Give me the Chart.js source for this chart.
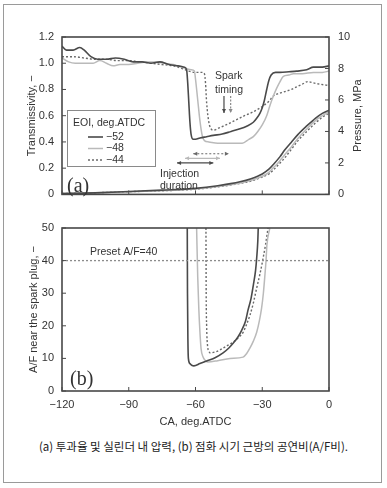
<!DOCTYPE html>
<html>
<head>
<meta charset="utf-8">
<script src="https://cdn.jsdelivr.net/npm/chart.js@4.4.0/dist/chart.umd.min.js"></script>
<style>
  body { margin: 0; background: #fff; }
  #wrap { position: relative; width: 387px; height: 488px; }
  #frame { position: absolute; left: 3px; top: 4px; width: 377px; height: 477px; border: 1px solid #9a9a9a; }
  #cA { position: absolute; left: 0; top: 0; }
  #cB { position: absolute; left: 0; top: 210px; }
  #caption { position: absolute; left: 0; width: 387px; top: 438px; text-align: center;
    font-family: "Noto Sans CJK KR", sans-serif; font-size: 11.5px; color: #222; }
</style>
</head>
<body>
<div id="wrap">
  <div id="frame"></div>
  <canvas id="cA" width="387" height="210"></canvas>
  <canvas id="cB" width="387" height="222"></canvas>
  <div id="caption">(a) 투과율 및 실린더 내 압력, (b) 점화 시기 근방의 공연비(A/F비).</div>
</div>
<script>
// crank angle ticks and legend
const caTicks = [-120, -90, -60, -30, 0];
const eoiLabels = ['−52', '−48', '−44'];

// (a) transmissivity
const ca52 = [-120, -118, -115, -112, -110, -107, -104, -100, -96, -92, -88, -84, -80, -76, -72, -68, -65, -64, -63.5, -63, -62.5, -62, -61, -60, -58, -55, -52, -48, -44, -40, -37, -34, -32.5, -31, -30, -29, -28, -27, -26, -24, -22, -18, -14.5, -10, -7, -3, 0];
const tr52 = [1.13, 1.10, 1.10, 1.12, 1.10, 1.05, 1.03, 1.03, 1.04, 1.03, 1.01, 1.01, 1.00, 1.01, 0.99, 0.98, 0.97, 0.95, 0.85, 0.70, 0.55, 0.46, 0.42, 0.42, 0.43, 0.44, 0.45, 0.46, 0.48, 0.50, 0.52, 0.55, 0.58, 0.62, 0.66, 0.72, 0.80, 0.87, 0.91, 0.93, 0.93, 0.935, 0.94, 0.95, 0.97, 0.97, 0.98];
const ca48 = [-120, -117, -114, -110, -106, -103, -100, -97, -94, -90, -86, -82, -78, -74, -70, -66, -62, -60.5, -60, -59, -58, -57, -56, -54, -50, -46, -42, -39, -36, -34, -32, -30, -28, -26.5, -25, -23.5, -22, -20.5, -18, -16, -12, -7, -3, 0];
const tr48 = [1.04, 1.01, 1.00, 1.00, 1.00, 1.02, 1.00, 0.98, 0.99, 0.99, 1.00, 1.01, 1.01, 1.00, 0.99, 0.97, 0.95, 0.94, 0.88, 0.72, 0.56, 0.45, 0.41, 0.40, 0.39, 0.39, 0.39, 0.39, 0.42, 0.44, 0.48, 0.53, 0.60, 0.68, 0.75, 0.81, 0.86, 0.90, 0.91, 0.92, 0.92, 0.93, 0.93, 0.94];
const ca44 = [-120, -115, -110, -105, -100, -95, -90, -85, -80, -75, -70, -66, -63, -60, -57, -56, -55.5, -55, -54, -53, -52, -49, -45, -41.5, -38, -34, -30, -27, -25, -22.5, -20.5, -17, -14.5, -12, -9.5, -7, -4, 0];
const tr44 = [1.05, 1.05, 1.04, 1.03, 1.03, 1.02, 1.02, 1.01, 1.00, 0.99, 0.98, 0.96, 0.94, 0.93, 0.93, 0.92, 0.85, 0.70, 0.55, 0.50, 0.49, 0.51, 0.54, 0.57, 0.60, 0.63, 0.67, 0.71, 0.75, 0.77, 0.78, 0.80, 0.82, 0.84, 0.86, 0.85, 0.84, 0.83];

// (a) cylinder pressure, MPa
const caP52 = [-120, -105, -90, -75, -60, -50, -40, -35, -30, -27, -25, -22, -20, -17, -14, -10, -6, -3, 0];
const p52 = [0.05, 0.1, 0.18, 0.27, 0.38, 0.55, 0.8, 1.0, 1.3, 1.6, 1.9, 2.4, 2.8, 3.3, 3.8, 4.35, 4.85, 5.15, 5.35];
const caP48 = [-120, -90, -60, -50, -40, -35, -30, -27, -25, -23.5, -22, -20, -17, -14, -10, -6, -3, 0];
const p48 = [0.05, 0.17, 0.35, 0.5, 0.72, 0.9, 1.15, 1.4, 1.7, 1.9, 2.15, 2.5, 3.0, 3.55, 4.15, 4.7, 5.0, 5.25];
const caP44 = [-120, -90, -60, -50, -40, -35, -30, -27, -25, -22, -20, -17, -14, -10, -6, -3, 0];
const p44 = [0.05, 0.17, 0.33, 0.48, 0.7, 0.85, 1.1, 1.3, 1.55, 2.0, 2.3, 2.85, 3.4, 4.0, 4.55, 4.9, 5.15];

// (b) A/F near the spark plug
const caAF52 = [-63.7, -63.6, -63.4, -63.2, -62.5, -61.5, -60.7, -58, -55, -51, -47.6, -45, -43, -41, -39.2, -37.5, -36.4, -35, -34, -33, -32.5, -32, -31.8];
const af52 = [50, 30, 15, 10, 8.4, 7.8, 7.7, 8.4, 9.2, 10.3, 11.7, 13.2, 14.7, 16.5, 18.7, 21.5, 24.8, 28.5, 32.5, 37, 40.8, 46, 50];
const caAF48 = [-59.5, -59, -58.5, -58, -57.5, -56.6, -55.5, -54.4, -50, -44.5, -38.6, -37, -35.5, -34, -32.5, -31.3, -30.3, -29.5, -28.8, -28.3, -27.9, -26.6];
const af48 = [50, 35, 25, 18, 13, 10.4, 9.3, 8.9, 9.3, 10, 10.4, 11.5, 13.2, 15.3, 18, 21.5, 25.4, 30, 35.6, 40, 44.8, 50];
const caAF44 = [-55.3, -55.2, -55, -54.6, -54, -53.5, -51, -49, -46, -43, -40.5, -38.6, -37, -35.5, -34, -32.5, -31, -29.6, -28.5, -27.4];
const af44 = [50, 30, 20, 14, 12.3, 11.7, 12, 12.6, 13.8, 15, 16.5, 18, 20.5, 23.3, 27, 31.6, 36, 40.8, 45, 50];
const presetAF = 40;

// annotations (crank angle)
const injStart = [-68.3, -64.7, -61];
const injEnd = [-52, -49, -45];
const injLevel = [0.24, 0.275, 0.31];
const sparkCA = [-47.2, -44.2];

const colors = ['#4a4a4a', '#bababa', '#6a6a6a'];
const dashes = [[], [], [2, 2]];
const widths = [1.6, 1.5, 1.4];
const noteFont = '10.5px "Liberation Sans", Arial, sans-serif';

Chart.defaults.font.family = '"Liberation Sans", Arial, sans-serif';
Chart.defaults.font.size = 11;
Chart.defaults.color = '#333';

function pts(xs, ys) {
    return xs.map((x, i) => ({ x: x, y: ys[i] }));
}

function series(xs, ys, i, axis) {
    return {
        data: pts(xs, ys),
        yAxisID: axis,
        borderColor: colors[i],
        borderDash: dashes[i],
        borderWidth: widths[i],
        pointRadius: 0,
        cubicInterpolationMode: 'monotone',
        fill: false
    };
}

function minusFmt(v) {
    return v < 0 ? '−' + Math.abs(v) : String(v);
}

function arrow(ctx, x1, y1, x2, y2, color, dash, both) {
    ctx.save();
    ctx.strokeStyle = color;
    ctx.fillStyle = color;
    ctx.lineWidth = 1.2;
    ctx.setLineDash(dash);
    ctx.beginPath();
    ctx.moveTo(x1, y1);
    ctx.lineTo(x2, y2);
    ctx.stroke();
    ctx.setLineDash([]);
    const head = (xa, ya, xb, yb) => {
        const a = Math.atan2(yb - ya, xb - xa);
        ctx.beginPath();
        ctx.moveTo(xb, yb);
        ctx.lineTo(xb - 4 * Math.cos(a) + 2 * Math.sin(a), yb - 4 * Math.sin(a) - 2 * Math.cos(a));
        ctx.lineTo(xb - 4 * Math.cos(a) - 2 * Math.sin(a), yb - 4 * Math.sin(a) + 2 * Math.cos(a));
        ctx.closePath();
        ctx.fill();
    };
    head(x1, y1, x2, y2);
    if (both) head(x2, y2, x1, y1);
    ctx.restore();
}

function drawFrame(chart, yKey, y2Key) {
    const ctx = chart.ctx;
    const a = chart.chartArea;
    const xs = chart.scales.x;
    ctx.save();
    ctx.strokeStyle = '#484848';
    ctx.lineWidth = 1.6;
    ctx.strokeRect(a.left, a.top, a.right - a.left, a.bottom - a.top);
    ctx.lineWidth = 1;
    ctx.beginPath();
    caTicks.forEach(v => {
        const px = xs.getPixelForValue(v);
        ctx.moveTo(px, a.bottom);
        ctx.lineTo(px, a.bottom - 4);
    });
    chart.scales[yKey].ticks.forEach(t => {
        const py = chart.scales[yKey].getPixelForValue(t.value);
        ctx.moveTo(a.left, py);
        ctx.lineTo(a.left + 4, py);
    });
    if (y2Key) {
        chart.scales[y2Key].ticks.forEach(t => {
            const py = chart.scales[y2Key].getPixelForValue(t.value);
            ctx.moveTo(a.right, py);
            ctx.lineTo(a.right - 4, py);
        });
    }
    ctx.stroke();
    ctx.restore();
}

const decoA = {
    id: 'decoA',
    afterDraw(chart) {
        const ctx = chart.ctx;
        const x = chart.scales.x, y = chart.scales.y;
        drawFrame(chart, 'y', 'y2');
        ctx.save();
        // right axis title
        ctx.fillStyle = '#333';
        ctx.font = '11px "Liberation Sans", Arial, sans-serif';
        ctx.textAlign = 'center';
        ctx.textBaseline = 'middle';
        ctx.translate(358, (chart.chartArea.top + chart.chartArea.bottom) / 2);
        ctx.rotate(-Math.PI / 2);
        ctx.fillText('Pressure, MPa', 0, 0);
        ctx.restore();

        // legend box
        ctx.save();
        ctx.fillStyle = '#fff';
        ctx.fillRect(67, 110, 88, 56);
        ctx.strokeStyle = '#8a8a8a';
        ctx.lineWidth = 1;
        ctx.strokeRect(67.5, 110.5, 88, 56);
        ctx.fillStyle = '#333';
        ctx.font = noteFont;
        ctx.textBaseline = 'middle';
        ctx.fillText('EOI, deg.ATDC', 73, 123);
        eoiLabels.forEach((lab, i) => {
            const ly = 137 + i * 11.5;
            ctx.strokeStyle = colors[i];
            ctx.lineWidth = widths[i];
            ctx.setLineDash(dashes[i]);
            ctx.beginPath();
            ctx.moveTo(88, ly);
            ctx.lineTo(103, ly);
            ctx.stroke();
            ctx.setLineDash([]);
            ctx.fillText(lab, 106, ly);
        });

        // text notes
        ctx.fillText('Injection', 160, 174);
        ctx.fillText('duration', 160, 186);
        ctx.fillText('Spark', 215, 76);
        ctx.fillText('timing', 215, 90);
        ctx.font = '20px "Liberation Serif", "DejaVu Serif", serif';
        ctx.fillText('(a)', 67, 187);
        ctx.restore();

        // injection duration arrows
        injStart.forEach((s, i) => {
            const py = y.getPixelForValue(injLevel[i]);
            arrow(ctx, x.getPixelForValue(s), py, x.getPixelForValue(injEnd[i]), py, colors[i], dashes[i], true);
        });
        // spark timing arrows
        sparkCA.forEach((s, i) => {
            const px = x.getPixelForValue(s);
            arrow(ctx, px, y.getPixelForValue(0.75), px, y.getPixelForValue(0.62), i === 0 ? colors[0] : '#8a8a8a', i === 0 ? [] : [2, 1.5], false);
        });
    }
};

const decoB = {
    id: 'decoB',
    afterDraw(chart) {
        const ctx = chart.ctx;
        drawFrame(chart, 'y', null);
        ctx.save();
        ctx.fillStyle = '#333';
        ctx.textBaseline = 'middle';
        ctx.font = noteFont;
        ctx.fillText('Preset A/F=40', 90, 42);
        ctx.font = '20px "Liberation Serif", "DejaVu Serif", serif';
        ctx.fillText('(b)', 70, 170);
        ctx.restore();
    }
};

new Chart(document.getElementById('cA'), {
    type: 'line',
    data: {
        datasets: [
            series(ca52, tr52, 0, 'y'),
            series(ca48, tr48, 1, 'y'),
            series(ca44, tr44, 2, 'y'),
            series(caP52, p52, 0, 'y2'),
            series(caP48, p48, 1, 'y2'),
            series(caP44, p44, 2, 'y2')
        ]
    },
    options: {
        responsive: false,
        animation: false,
        layout: { padding: { top: 37, left: 22, right: 0, bottom: 0 } },
        plugins: { legend: { display: false }, tooltip: { enabled: false } },
        scales: {
            x: {
                type: 'linear', min: -120, max: 0,
                ticks: { display: false, stepSize: 30 },
                grid: { display: false, drawTicks: false },
                border: { display: false },
                afterFit: s => { s.height = 12; }
            },
            y: {
                min: 0, max: 1.2,
                ticks: { stepSize: 0.2, padding: 8, callback: v => v === 0 ? '0' : v.toFixed(1) },
                grid: { display: false, drawTicks: false },
                border: { display: false },
                title: { display: true, text: 'Transmissivity, −', padding: { top: 3, bottom: 0 } },
                afterFit: s => { s.width = 40; }
            },
            y2: {
                position: 'right',
                min: 0, max: 10,
                ticks: { stepSize: 2, padding: 9 },
                grid: { display: false, drawTicks: false },
                border: { display: false },
                afterFit: s => { s.width = 58; }
            }
        }
    },
    plugins: [decoA]
});

new Chart(document.getElementById('cB'), {
    type: 'line',
    data: {
        datasets: [
            {
                data: [{ x: -120, y: presetAF }, { x: 0, y: presetAF }],
                borderColor: '#8c8c8c', borderDash: [2, 2], borderWidth: 1.3, pointRadius: 0
            },
            series(caAF52, af52, 0, 'y'),
            series(caAF48, af48, 1, 'y'),
            series(caAF44, af44, 2, 'y')
        ]
    },
    options: {
        responsive: false,
        animation: false,
        layout: { padding: { top: 18, left: 22, right: 58, bottom: 0 } },
        plugins: { legend: { display: false }, tooltip: { enabled: false } },
        scales: {
            x: {
                type: 'linear', min: -120, max: 0,
                ticks: { stepSize: 30, padding: 7, callback: v => minusFmt(v) },
                grid: { display: false, drawTicks: false },
                border: { display: false },
                title: { display: true, text: 'CA, deg.ATDC', padding: { top: 0, bottom: 3 } },
                afterFit: s => { s.height = 41; }
            },
            y: {
                min: 0, max: 50,
                ticks: { stepSize: 10, padding: 8 },
                grid: { display: false, drawTicks: false },
                border: { display: false },
                title: { display: true, text: 'A/F near the spark plug, −', padding: { top: 5, bottom: 0 } },
                afterFit: s => { s.width = 40; }
            }
        }
    },
    plugins: [decoB]
});
</script>
</body>
</html>
